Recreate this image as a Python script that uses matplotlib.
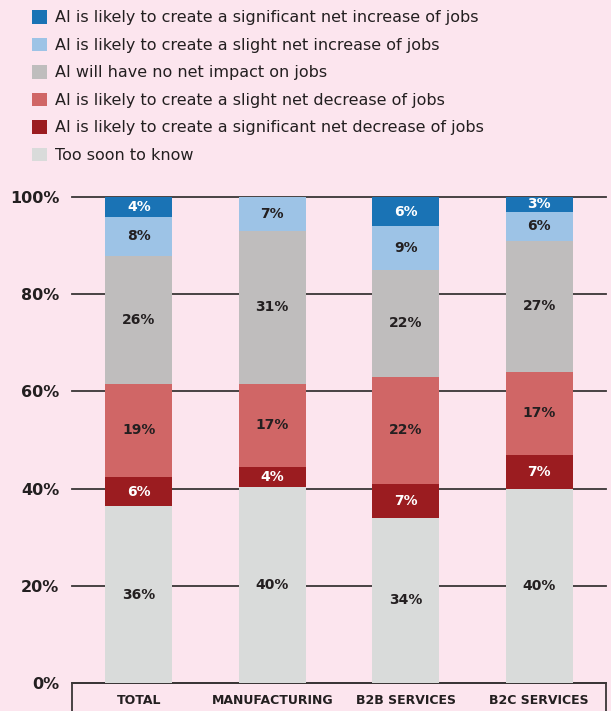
import matplotlib
matplotlib.use("Agg")
import matplotlib.pyplot as plt
from matplotlib.patches import Rectangle
import numpy as np

categories = ["TOTAL", "MANUFACTURING", "B2B SERVICES", "B2C SERVICES"]
series_names = [
    "Too soon to know",
    "AI is likely to create a significant net decrease of jobs",
    "AI is likely to create a slight net decrease of jobs",
    "AI will have no net impact on jobs",
    "AI is likely to create a slight net increase of jobs",
    "AI is likely to create a significant net increase of jobs",
]
too_soon = [36, 40, 34, 40]
sig_dec = [6, 4, 7, 7]
slight_dec = [19, 17, 22, 17]
no_impact = [26, 31, 22, 27]
slight_inc = [8, 7, 9, 6]
sig_inc = [4, 0, 6, 3]
yticks = [0, 20, 40, 60, 80, 100]

colors = ["#d9dbda", "#9b1c20", "#d06666", "#bfbdbd", "#9dc3e6", "#1a73b5"]
text_colors = ["#231f20", "white", "#231f20", "#231f20", "#231f20", "white"]
bg = "#fce5ee"
dark = "#231f20"

plt.rcParams['font.family'] = ['DejaVu Sans']

fig = plt.figure(figsize=(6.11, 7.11), dpi=100, facecolor=bg)
ax = fig.add_axes([72/611, 28/711, 534/611, 486/711])
ax.set_facecolor(bg)

data = np.array([too_soon, sig_dec, slight_dec, no_impact, slight_inc, sig_inc], dtype=float)
totals = data.sum(axis=0)
norm = data / totals * 100
x = np.arange(len(categories))

for yv in yticks:
    ax.axhline(yv, color="#3a3536", lw=1.3, zorder=1, clip_on=False)

bottom = np.zeros(len(categories))
handles = []
for i in range(len(series_names)):
    b = ax.bar(x, norm[i], bottom=bottom, width=0.5, color=colors[i], zorder=2,
               label=series_names[i])
    handles.append(b)
    for j in range(len(categories)):
        if data[i, j] > 0:
            ax.text(x[j], bottom[j] + norm[i, j] / 2, f"{int(data[i, j])}%",
                    ha="center", va="center", fontsize=10, fontweight="bold",
                    color=text_colors[i], zorder=3)
    bottom += norm[i]

ax.set_xlim(-0.5, 3.5)
ax.set_ylim(0, 100)
ax.set_yticks(yticks)
ax.set_yticklabels([f"{v}%" for v in yticks], fontsize=11.5, fontweight="bold", color=dark)
ax.tick_params(axis="y", length=0, pad=9)
ax.set_xticks(x)
ax.set_xticklabels(categories, fontsize=9, fontweight="bold", color=dark)
ax.tick_params(axis="x", length=0, pad=8)
for s in ax.spines.values():
    s.set_visible(False)

box = Rectangle((0, -0.2), 1, 0.2, transform=ax.transAxes, fill=False,
                edgecolor="#3a3536", lw=1.3, clip_on=False, zorder=1)
ax.add_patch(box)

# legend (top = significant increase)
order = [5, 4, 3, 2, 1, 0]
leg = fig.legend([handles[k] for k in order], [series_names[k] for k in order],
                 loc="upper left", bbox_to_anchor=(32/611, 1 - 10/711),
                 frameon=False, fontsize=11.5, handlelength=0.95, handleheight=0.95,
                 handletextpad=0.5, labelspacing=0.76, borderaxespad=0, borderpad=0)
for t in leg.get_texts():
    t.set_color(dark)

fig.savefig("out.png", dpi=100, facecolor=bg)
